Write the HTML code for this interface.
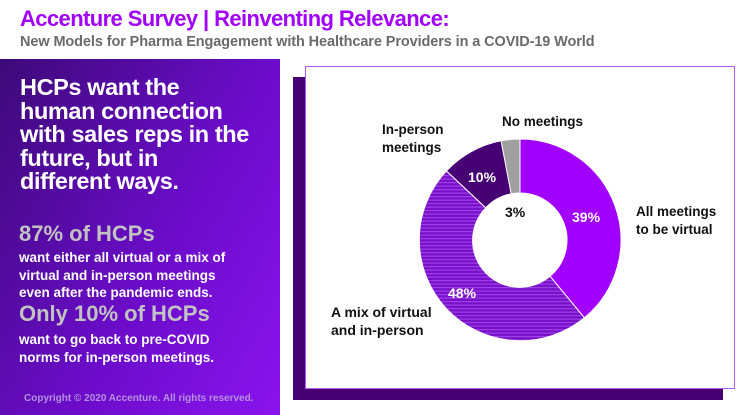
<!DOCTYPE html>
<html><head><style>
body{margin:0;width:750px;height:415px;overflow:hidden;background:#fff;font-family:"Liberation Sans",sans-serif;position:relative}
.t{position:absolute;white-space:nowrap;font-weight:bold}
</style></head><body>
<div class="t" style="left:20px;top:6px;font-size:22px;color:#a100ff;letter-spacing:-0.6px">Accenture Survey | Reinventing Relevance:</div>
<div class="t" style="left:20px;top:34px;font-size:14.5px;color:#6a6a6a;letter-spacing:-0.1px">New Models for Pharma Engagement with Healthcare Providers in a COVID-19 World</div>
<div style="position:absolute;left:0;top:59px;width:280px;height:356px;background:linear-gradient(120deg,#3d0a78 0%,#6a0cc8 55%,#8a14ee 100%)"></div>
<div class="t" style="left:20px;top:76px;font-size:23.5px;line-height:23.5px;color:#fff;letter-spacing:-0.4px">HCPs want the<br>human connection<br>with sales reps in the<br>future, but in<br>different ways.</div>
<div class="t" style="left:19px;top:221px;font-size:22px;color:#c2c2c2">87% of HCPs</div>
<div class="t" style="left:19px;top:249px;font-size:13.5px;line-height:17.5px;color:#fff">want either all virtual or a mix of<br>virtual and in-person meetings<br>even after the pandemic ends.</div>
<div class="t" style="left:19px;top:301px;font-size:22px;color:#c2c2c2">Only 10% of HCPs</div>
<div class="t" style="left:19px;top:331px;font-size:13.5px;line-height:17.5px;color:#fff">want to go back to pre-COVID<br>norms for in-person meetings.</div>
<div class="t" style="left:24px;top:393px;font-size:10px;color:#b590e0">Copyright © 2020 Accenture. All rights reserved.</div>
<div style="position:absolute;left:293px;top:77px;width:430px;height:323px;background:#460073"></div>
<div style="position:absolute;left:305px;top:66px;width:428px;height:321px;background:#fff;border:1px solid #b35cf0"></div>
<svg style="position:absolute;left:0;top:0" width="750" height="415">
<defs><pattern id="h" width="4" height="3.5" patternUnits="userSpaceOnUse"><rect width="4" height="3.5" fill="#7a10c8"/><rect width="4" height="1.2" fill="#9a40e8"/></pattern></defs>
<path d="M520,139 A101,101 0 0 1 584.4,317.8 L550,276.2 A47,47 0 0 0 520,193 Z" fill="#a100ff" stroke="#fff" stroke-width="1"/>
<path d="M584.4,317.8 A101,101 0 0 1 446.4,170.9 L485.7,207.8 A47,47 0 0 0 550,276.2 Z" fill="url(#h)" stroke="#fff" stroke-width="1"/>
<path d="M446.4,170.9 A101,101 0 0 1 501.1,140.8 L511.2,193.8 A47,47 0 0 0 485.7,207.8 Z" fill="#460073" stroke="#fff" stroke-width="1"/>
<path d="M501.1,140.8 A101,101 0 0 1 520,139 L520,193 A47,47 0 0 0 511.2,193.8 Z" fill="#a0a0a0" stroke="#fff" stroke-width="1"/>
<g font-family="Liberation Sans,sans-serif" font-weight="bold" font-size="13.5">
<text x="502" y="126" fill="#111">No meetings</text>
<text x="382" y="134" fill="#111">In-person</text>
<text x="382" y="152" fill="#111">meetings</text>
<text x="468" y="182" fill="#fff" font-size="14">10%</text>
<text x="505" y="217" fill="#111" font-size="14">3%</text>
<text x="572" y="222" fill="#fff" font-size="14">39%</text>
<text x="636" y="216" fill="#111">All meetings</text>
<text x="636" y="234" fill="#111">to be virtual</text>
<text x="448" y="298" fill="#fff" font-size="14">48%</text>
<text x="331" y="317" fill="#111" font-size="14">A mix of virtual</text>
<text x="331" y="335" fill="#111" font-size="14">and in-person</text>
</g>
</svg>
</body></html>
